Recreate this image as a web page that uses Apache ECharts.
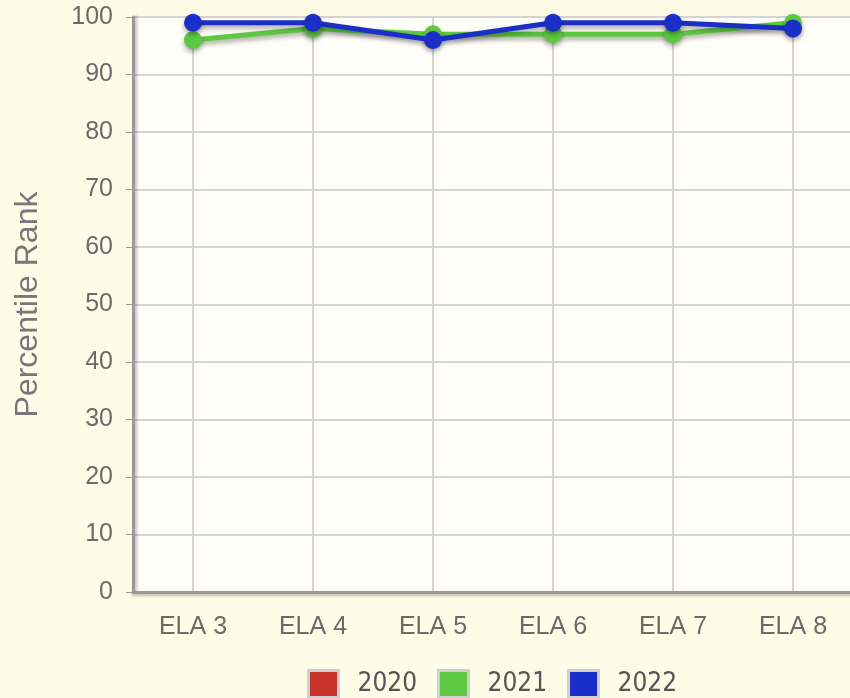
<!DOCTYPE html>
<html lang="en">

<head>
    <meta charset="UTF-8">
    <title>Percentile Rank</title>
    <style>
        html, body { margin: 0; padding: 0; background: #fdfce7; }
    </style>
</head>

<body>
    <div id="main" style="width:850px;height:698px;"></div>
    <script src="https://cdn.jsdelivr.net/npm/echarts@6/dist/echarts.min.js"></script>
    <script>
        var categories = ['ELA 3', 'ELA 4', 'ELA 5', 'ELA 6', 'ELA 7', 'ELA 8'];
        var years = ['2020', '2021', '2022'];
        var yearColors = ['#c8332c', '#5dc940', '#1b2ec8'];
        var rank2020 = [];
        var rank2021 = [96, 98, 97, 97, 97, 99];
        var rank2022 = [99, 99, 96, 99, 99, 98];
        var rankByYear = [rank2020, rank2021, rank2022];

        var myChart = echarts.init(document.getElementById('main'));

        var series = [];
        for (var i = 0; i < years.length; i++) {
            series.push({
                name: years[i],
                type: 'line',
                data: rankByYear[i],
                symbol: 'circle',
                symbolSize: 18,
                color: yearColors[i],
                lineStyle: {
                    width: 5,
                    shadowColor: 'rgba(0,0,0,0.35)',
                    shadowBlur: 5,
                    shadowOffsetY: 3
                },
                itemStyle: {
                    shadowColor: 'rgba(0,0,0,0.35)',
                    shadowBlur: 5,
                    shadowOffsetY: 3
                },
                emphasis: { disabled: true },
                z: 2 + i
            });
        }

        var option = {
            backgroundColor: '#fdfce7',
            animation: false,
            grid: {
                left: 133,
                top: 17,
                width: 720,
                height: 575,
                outerBoundsMode: 'none',
                containLabel: false,
                show: true,
                backgroundColor: '#fffef8',
                borderColor: '#a0a0a0',
                borderWidth: 2
            },
            legend: {
                left: 302,
                top: 664,
                icon: 'rect',
                itemWidth: 30,
                itemHeight: 27,
                itemGap: 20,
                itemStyle: { borderColor: '#cfcfcf', borderWidth: 3 },
                textStyle: {
                    fontFamily: 'DejaVu Sans Condensed',
                    fontSize: 26,
                    color: '#555',
                    padding: [0, 0, 0, 14]
                },
                data: years
            },
            xAxis: {
                type: 'category',
                data: categories,
                axisLine: { lineStyle: { color: '#999', width: 3, shadowColor: 'rgba(0,0,0,0.25)', shadowBlur: 3, shadowOffsetY: 2 } },
                axisTick: { alignWithLabel: true, length: 6, lineStyle: { color: '#ccc' } },
                axisLabel: {
                    margin: 23,
                    fontFamily: 'Liberation Sans',
                    fontSize: 25,
                    color: '#6b6b6b'
                },
                splitLine: { show: true, alignWithLabel: true, lineStyle: { color: '#d4d4d4', width: 2 } }
            },
            yAxis: {
                type: 'value',
                min: 0,
                max: 100,
                interval: 10,
                name: 'Percentile Rank',
                nameLocation: 'middle',
                nameGap: 89,
                nameTextStyle: {
                    fontFamily: 'Liberation Sans',
                    fontSize: 32,
                    color: '#777'
                },
                axisLine: { show: true, lineStyle: { color: '#999', width: 3, shadowColor: 'rgba(0,0,0,0.25)', shadowBlur: 3, shadowOffsetX: 2 } },
                axisTick: { show: true, length: 7, lineStyle: { color: '#999' } },
                axisLabel: {
                    margin: 20,
                    fontFamily: 'Liberation Sans',
                    fontSize: 25,
                    color: '#6b6b6b'
                },
                splitLine: { lineStyle: { color: '#d4d4d4', width: 2 } }
            },
            series: series
        };
        myChart.setOption(option);
    </script>
</body>

</html>
